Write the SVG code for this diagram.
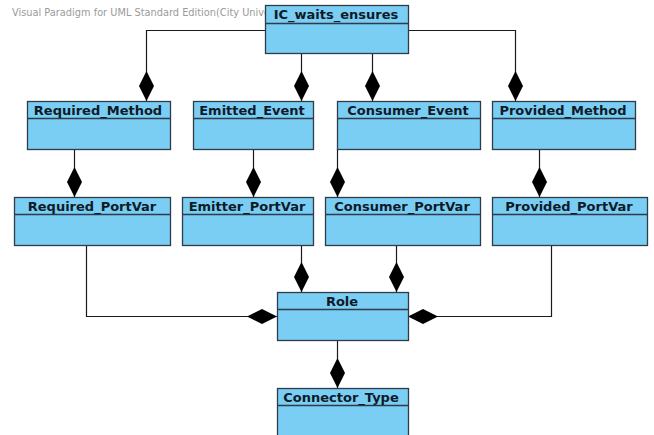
<svg xmlns="http://www.w3.org/2000/svg" width="654" height="435" viewBox="0 0 654 435">
<style>
.box{fill:#7BCEF3;stroke:#2E3B48;stroke-width:1.3}
.div{stroke:#2E3B48;stroke-width:1.3}
.t{font-family:"DejaVu Sans",sans-serif;font-weight:bold;font-size:13px;fill:#0E1A28;text-anchor:middle}
.wm{font-family:"DejaVu Sans",sans-serif;font-size:9.8px;fill:#9A9A9A}
.c{fill:none;stroke:#1A1A1A;stroke-width:1.2;marker-end:url(#dia)}
</style>
<defs>
<marker id="dia" viewBox="0 0 30 15" refX="30" refY="7.5" markerWidth="30" markerHeight="15" markerUnits="userSpaceOnUse" orient="auto">
<path d="M0,7.5 L15,0 L30,7.5 L15,15 Z" fill="#000"/>
</marker>
</defs>
<rect width="654" height="435" fill="#fff"/>
<text class="wm" x="12" y="16">Visual Paradigm for UML Standard Edition(City Unive</text>
<g id="connectors">
<path class="c" d="M265,30.5 H146.5 V101"/>
<path class="c" d="M301.5,53 V101"/>
<path class="c" d="M372.5,53 V101"/>
<path class="c" d="M408,30.5 H515.5 V101"/>
<path class="c" d="M74.5,149 V197"/>
<path class="c" d="M253.5,149 V197"/>
<path class="c" d="M337.5,149 V197"/>
<path class="c" d="M539.5,149 V197"/>
<path class="c" d="M86.5,245 V316.5 H277"/>
<path class="c" d="M301.5,245 V292"/>
<path class="c" d="M396.5,245 V292"/>
<path class="c" d="M551.5,245 V316.5 H408"/>
<path class="c" d="M337.5,340 V388"/>
</g>
<g id="IC_waits_ensures"><rect class="box" x="265.5" y="5.5" width="143" height="48"/><line class="div" x1="265.5" y1="23.5" x2="408.5" y2="23.5"/><text class="t" x="336" y="19">IC_waits_ensures</text></g>
<g id="Required_Method"><rect class="box" x="27.5" y="101.5" width="143" height="48"/><line class="div" x1="27.5" y1="118.5" x2="170.5" y2="118.5"/><text class="t" x="98" y="114.5">Required_Method</text></g>
<g id="Emitted_Event"><rect class="box" x="193.5" y="101.5" width="120" height="48"/><line class="div" x1="193.5" y1="118.5" x2="313.5" y2="118.5"/><text class="t" x="252" y="114.5">Emitted_Event</text></g>
<g id="Consumer_Event"><rect class="box" x="337.5" y="101.5" width="143" height="48"/><line class="div" x1="337.5" y1="118.5" x2="480.5" y2="118.5"/><text class="t" x="408" y="114.5">Consumer_Event</text></g>
<g id="Provided_Method"><rect class="box" x="492.5" y="101.5" width="143" height="48"/><line class="div" x1="492.5" y1="118.5" x2="635.5" y2="118.5"/><text class="t" x="563" y="114.5">Provided_Method</text></g>
<g id="Required_PortVar"><rect class="box" x="14.5" y="197.5" width="156" height="48"/><line class="div" x1="14.5" y1="214.5" x2="170.5" y2="214.5"/><text class="t" x="92" y="210.5">Required_PortVar</text></g>
<g id="Emitter_PortVar"><rect class="box" x="182.5" y="197.5" width="131" height="48"/><line class="div" x1="182.5" y1="214.5" x2="313.5" y2="214.5"/><text class="t" x="247" y="210.5">Emitter_PortVar</text></g>
<g id="Consumer_PortVar"><rect class="box" x="325.5" y="197.5" width="155" height="48"/><line class="div" x1="325.5" y1="214.5" x2="480.5" y2="214.5"/><text class="t" x="402" y="210.5">Consumer_PortVar</text></g>
<g id="Provided_PortVar"><rect class="box" x="492.5" y="197.5" width="155" height="48"/><line class="div" x1="492.5" y1="214.5" x2="647.5" y2="214.5"/><text class="t" x="569" y="210.5">Provided_PortVar</text></g>
<g id="Role"><rect class="box" x="277.5" y="292.5" width="131" height="48"/><line class="div" x1="277.5" y1="309.5" x2="408.5" y2="309.5"/><text class="t" x="342" y="305.5">Role</text></g>
<g id="Connector_Type"><rect class="box" x="277.5" y="388.5" width="131" height="48"/><line class="div" x1="277.5" y1="405.5" x2="408.5" y2="405.5"/><text class="t" x="341" y="401.5">Connector_Type</text></g>
</svg>
